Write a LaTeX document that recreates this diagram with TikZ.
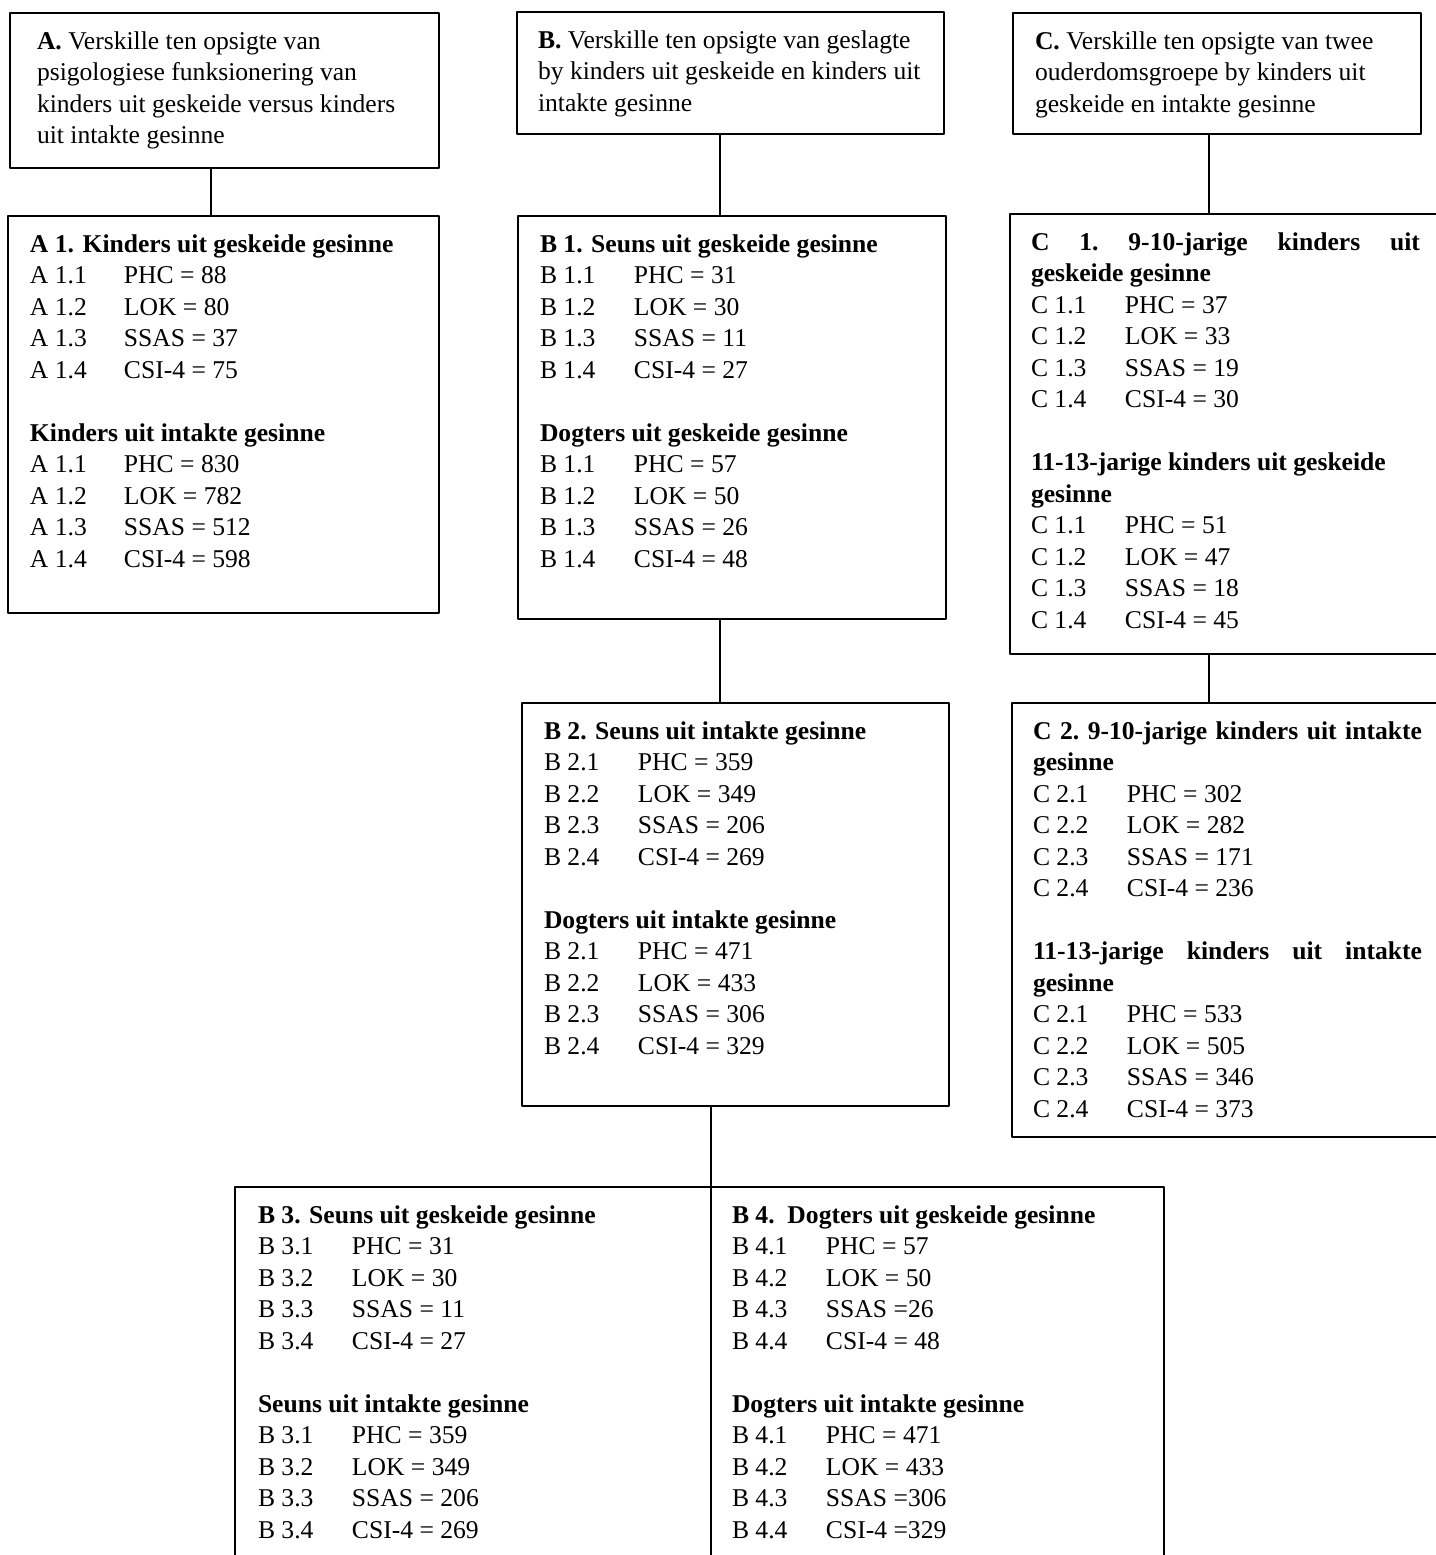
\documentclass[tikz,border=0pt]{standalone}
\usepackage{fontspec}
\setmainfont{Liberation Serif}

\newcommand{\ry}[2]{\makebox[47pt][l]{#1}#2}
\newcommand{\vakteks}[3]{\begin{minipage}[t][#2][t]{#1}\raggedright\rule{0pt}{18pt}#3\end{minipage}}

\begin{document}
\begin{tikzpicture}[x=0.5pt, y=-0.5pt, line cap=round, line join=round,
    vak/.style={draw, line width=1pt, anchor=north west, inner xsep=11pt, inner ysep=0pt,
      outer sep=0pt, font=\fontsize{12.8}{15.75}\selectfont},
    lyn/.style={line width=0.8pt}]

  \useasboundingbox (0,0) rectangle (1436,1555);
  \clip (0,0) rectangle (1436,1555);

  % boonste vlak
  \node[vak, inner xsep=13.5pt] (atop) at (10,13) {\vakteks{187.5pt}{77.5pt}{%
    \textbf{A.} Verskille ten opsigte van\\
    psigologiese funksionering van\\
    kinders uit geskeide versus kinders\\
    uit intakte gesinne}};
  \node[vak, inner xsep=10.5pt] (btop) at (517,12) {\vakteks{192.5pt}{61pt}{%
    \textbf{B.} Verskille ten opsigte van geslagte\\
    by kinders uit geskeide en kinders uit\\
    intakte gesinne}};
  \node[vak] (ctop) at (1013,13) {\vakteks{182pt}{60.5pt}{%
    \textbf{C.} Verskille ten opsigte van twee\\
    ouderdomsgroepe by kinders uit\\
    geskeide en intakte gesinne}};

  % tweede vlak
  \node[vak] (a1) at (8,216) {\vakteks{193.5pt}{198.5pt}{%
    \textbf{A 1. Kinders uit geskeide gesinne}\\
    \ry{A 1.1}{PHC = 88}\\
    \ry{A 1.2}{LOK = 80}\\
    \ry{A 1.3}{SSAS = 37}\\
    \ry{A 1.4}{CSI-4 = 75}\\[15.75pt]
    \textbf{Kinders uit intakte gesinne}\\
    \ry{A 1.1}{PHC = 830}\\
    \ry{A 1.2}{LOK = 782}\\
    \ry{A 1.3}{SSAS = 512}\\
    \ry{A 1.4}{CSI-4 = 598}}};
  \node[vak] (b1) at (518,216) {\vakteks{192pt}{201.5pt}{%
    \textbf{B 1. Seuns uit geskeide gesinne}\\
    \ry{B 1.1}{PHC = 31}\\
    \ry{B 1.2}{LOK = 30}\\
    \ry{B 1.3}{SSAS = 11}\\
    \ry{B 1.4}{CSI-4 = 27}\\[15.75pt]
    \textbf{Dogters uit geskeide gesinne}\\
    \ry{B 1.1}{PHC = 57}\\
    \ry{B 1.2}{LOK = 50}\\
    \ry{B 1.3}{SSAS = 26}\\
    \ry{B 1.4}{CSI-4 = 48}}};
  \node[vak, inner xsep=10.5pt] (c1) at (1010,214) {\vakteks{194.5pt}{220pt}{%
    \textbf{C\hfill 1.\hfill 9-10-jarige\hfill kinders\hfill uit}\\
    \textbf{geskeide gesinne}\\
    \ry{C 1.1}{PHC = 37}\\
    \ry{C 1.2}{LOK = 33}\\
    \ry{C 1.3}{SSAS = 19}\\
    \ry{C 1.4}{CSI-4 = 30}\\[15.75pt]
    \textbf{11-13-jarige kinders uit geskeide}\\
    \textbf{gesinne}\\
    \ry{C 1.1}{PHC = 51}\\
    \ry{C 1.2}{LOK = 47}\\
    \ry{C 1.3}{SSAS = 18}\\
    \ry{C 1.4}{CSI-4 = 45}}};

  % derde vlak
  \node[vak] (b2) at (522,703) {\vakteks{191.5pt}{201.5pt}{%
    \textbf{B 2. Seuns uit intakte gesinne}\\
    \ry{B 2.1}{PHC = 359}\\
    \ry{B 2.2}{LOK = 349}\\
    \ry{B 2.3}{SSAS = 206}\\
    \ry{B 2.4}{CSI-4 = 269}\\[15.75pt]
    \textbf{Dogters uit intakte gesinne}\\
    \ry{B 2.1}{PHC = 471}\\
    \ry{B 2.2}{LOK = 433}\\
    \ry{B 2.3}{SSAS = 306}\\
    \ry{B 2.4}{CSI-4 = 329}}};
  \node[vak, inner xsep=10.5pt] (c2) at (1012,703) {\vakteks{194.5pt}{217pt}{%
    \textbf{C\hfill 2.\hfill 9-10-jarige\hfill kinders\hfill uit\hfill intakte}\\
    \textbf{gesinne}\\
    \ry{C 2.1}{PHC = 302}\\
    \ry{C 2.2}{LOK = 282}\\
    \ry{C 2.3}{SSAS = 171}\\
    \ry{C 2.4}{CSI-4 = 236}\\[15.75pt]
    \textbf{11-13-jarige\hfill kinders\hfill uit\hfill intakte}\\
    \textbf{gesinne}\\
    \ry{C 2.1}{PHC = 533}\\
    \ry{C 2.2}{LOK = 505}\\
    \ry{C 2.3}{SSAS = 346}\\
    \ry{C 2.4}{CSI-4 = 373}}};

  % vierde vlak
  \node[vak, inner xsep=11.5pt] (b3) at (235,1187) {\vakteks{215pt}{194pt}{%
    \textbf{B 3. Seuns uit geskeide gesinne}\\
    \ry{B 3.1}{PHC = 31}\\
    \ry{B 3.2}{LOK = 30}\\
    \ry{B 3.3}{SSAS = 11}\\
    \ry{B 3.4}{CSI-4 = 27}\\[15.75pt]
    \textbf{Seuns uit intakte gesinne}\\
    \ry{B 3.1}{PHC = 359}\\
    \ry{B 3.2}{LOK = 349}\\
    \ry{B 3.3}{SSAS = 206}\\
    \ry{B 3.4}{CSI-4 = 269}}};
  \node[vak, inner xsep=10.5pt] (b4) at (b3.north east) {\vakteks{205.5pt}{194pt}{%
    \textbf{B 4.\ \ Dogters uit geskeide gesinne}\\
    \ry{B 4.1}{PHC = 57}\\
    \ry{B 4.2}{LOK = 50}\\
    \ry{B 4.3}{SSAS =26}\\
    \ry{B 4.4}{CSI-4 = 48}\\[15.75pt]
    \textbf{Dogters uit intakte gesinne}\\
    \ry{B 4.1}{PHC = 471}\\
    \ry{B 4.2}{LOK = 433}\\
    \ry{B 4.3}{SSAS =306}\\
    \ry{B 4.4}{CSI-4 =329}}};

  % verbindings
  \coordinate (ka) at (211,0);
  \coordinate (kb) at (720,0);
  \coordinate (kc) at (1209,0);
  \draw[lyn] (atop.south -| ka) -- (a1.north -| ka);
  \draw[lyn] (btop.south -| kb) -- (b1.north -| kb);
  \draw[lyn] (ctop.south -| kc) -- (c1.north -| kc);
  \draw[lyn] (b1.south -| kb) -- (b2.north -| kb);
  \draw[lyn] (c1.south -| kc) -- (c2.north -| kc);
  \draw[lyn] (b2.south -| b3.north east) -- (b3.north east);

\end{tikzpicture}
\end{document}
